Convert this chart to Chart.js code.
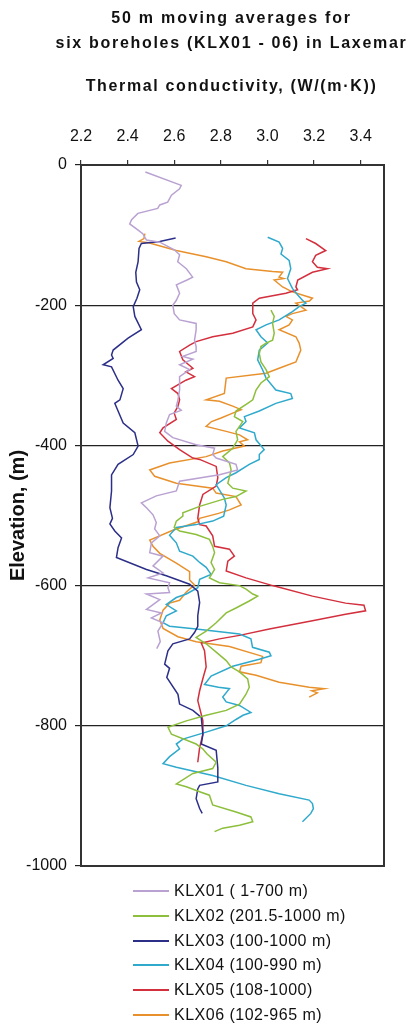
<!DOCTYPE html>
<html><head><meta charset="utf-8">
<script src="https://cdn.jsdelivr.net/npm/chart.js@4.4.1/dist/chart.umd.min.js"></script>
<style>
html,body{margin:0;padding:0;background:#fff;}
#wrap{position:relative;width:409px;height:1024px;overflow:hidden;font-family:"Liberation Sans",Arial,sans-serif;color:#111;}
#c{position:absolute;left:0;top:0;}
.t{position:absolute;left:54px;width:355px;text-align:center;font-weight:bold;white-space:nowrap;line-height:1.2;}
#t1{top:8px;font-size:16px;letter-spacing:1.8px;}
#t2{top:33px;font-size:16px;letter-spacing:1.7px;}
#t3{top:76px;font-size:16px;letter-spacing:1.65px;}
#legend{position:absolute;left:133px;top:881px;}
.li{position:relative;height:24.8px;font-size:16px;line-height:1.2;white-space:nowrap;letter-spacing:0.5px;}
.li .sw{position:absolute;left:0;top:9px;width:36px;height:2px;}
.li .tx{position:absolute;left:41px;top:0;}
</style></head>
<body><div id="wrap">
<canvas id="c" width="409" height="1024"></canvas>
<div class="t" id="t1">50 m moving averages for</div>
<div class="t" id="t2">six boreholes (KLX01 - 06) in Laxemar</div>
<div class="t" id="t3">Thermal conductivity, (W/(m·K))</div>
<div id="legend"></div>
</div>
<script>
// ---- data ----
const seriesNames = ["KLX01 ( 1-700 m)", "KLX02 (201.5-1000 m)", "KLX03 (100-1000 m)", "KLX04 (100-990 m)", "KLX05 (108-1000)", "KLX06 (102-965 m)"];
const xTickValues = [2.2, 2.4, 2.6, 2.8, 3.0, 3.2, 3.4];
const yTickValues = [0, -200, -400, -600, -800, -1000];

const klx01Elev = [-10,-29,-34,-43,-53,-57,-62,-69,-78,-84,-91,-98,-107,-110,-121,-128,-138,-148,-160,-164,-171,-183,-193,-200,-212,-221,-226,-235,-250,-259,-266,-273,-277,-285,-292,-302,-321,-335,-344,-350,-356,-368,-380,-389,-399,-404,-413,-418,-427,-435,-442,-451,-465,-472,-482,-489,-499,-510,-519,-529,-539,-553,-558,-572,-582,-589,-596,-603,-610,-612,-620,-634,-639,-646,-653,-665,-680,-690];
const klx01K = [2.476,2.630,2.623,2.588,2.572,2.538,2.529,2.444,2.417,2.409,2.438,2.465,2.481,2.538,2.600,2.623,2.615,2.652,2.679,2.655,2.609,2.623,2.609,2.594,2.600,2.623,2.694,2.694,2.687,2.694,2.694,2.637,2.680,2.623,2.666,2.623,2.623,2.616,2.609,2.630,2.580,2.566,2.559,2.594,2.694,2.773,2.765,2.780,2.865,2.872,2.794,2.623,2.609,2.523,2.459,2.481,2.509,2.523,2.516,2.538,2.502,2.495,2.552,2.509,2.552,2.488,2.580,2.573,2.580,2.481,2.538,2.481,2.545,2.502,2.552,2.530,2.540,2.525];

const klx02Elev = [-207,-216,-226,-240,-250,-254,-259,-269,-281,-292,-302,-311,-321,-335,-340,-351,-359,-366,-380,-392,-404,-416,-425,-435,-454,-461,-465,-473,-477,-487,-496,-501,-508,-517,-522,-527,-534,-544,-553,-567,-577,-589,-596,-600,-605,-612,-615,-622,-632,-639,-653,-665,-674,-683,-695,-707,-716,-723,-733,-745,-755,-769,-778,-785,-793,-802,-812,-826,-833,-840,-852,-861,-868,-883,-887,-894,-899,-913,-923,-930,-937,-942,-946,-951];
const klx02K = [3.015,3.029,3.022,3.029,3.022,2.994,2.972,2.965,2.972,2.994,3.008,2.972,2.951,2.937,2.915,2.865,2.858,2.894,2.865,2.872,2.851,2.808,2.837,2.844,2.830,2.851,2.908,2.865,2.808,2.709,2.637,2.637,2.609,2.600,2.623,2.694,2.751,2.765,2.773,2.758,2.773,2.751,2.794,2.880,2.908,2.937,2.958,2.922,2.865,2.823,2.780,2.737,2.694,2.737,2.780,2.823,2.844,2.880,2.915,2.922,2.908,2.880,2.823,2.737,2.652,2.573,2.588,2.694,2.723,2.740,2.780,2.765,2.680,2.609,2.652,2.709,2.751,2.765,2.865,2.929,2.937,2.880,2.808,2.773];

const klx03Elev = [-104,-109,-112,-119,-138,-153,-167,-178,-190,-202,-216,-235,-247,-264,-271,-276,-285,-288,-307,-319,-335,-340,-351,-368,-382,-401,-413,-427,-442,-465,-489,-504,-512,-522,-532,-546,-560,-577,-586,-598,-608,-624,-643,-658,-667,-676,-683,-693,-712,-718,-731,-755,-769,-778,-788,-812,-826,-835,-860,-880,-885,-890,-904,-918,-925];
const klx03K = [2.606,2.538,2.459,2.449,2.445,2.435,2.438,2.452,2.440,2.424,2.431,2.459,2.402,2.338,2.331,2.338,2.295,2.331,2.359,2.381,2.367,2.345,2.359,2.381,2.431,2.445,2.424,2.359,2.331,2.331,2.324,2.335,2.324,2.345,2.374,2.359,2.352,2.481,2.566,2.666,2.701,2.709,2.701,2.701,2.687,2.666,2.594,2.573,2.559,2.580,2.568,2.616,2.623,2.680,2.716,2.723,2.716,2.780,2.787,2.787,2.709,2.701,2.694,2.709,2.720];

const klx04Elev = [-103,-110,-119,-127,-136,-148,-162,-176,-185,-193,-197,-202,-209,-221,-228,-235,-245,-254,-264,-278,-292,-304,-321,-326,-333,-340,-351,-359,-366,-375,-382,-392,-406,-413,-420,-427,-439,-446,-456,-475,-485,-501,-508,-513,-517,-528,-539,-551,-558,-567,-574,-584,-591,-603,-612,-617,-627,-636,-643,-653,-658,-662,-669,-676,-688,-695,-700,-705,-715,-729,-741,-745,-747,-759,-766,-771,-781,-785,-791,-800,-809,-819,-826,-833,-844,-854,-859,-871,-885,-897,-906,-911,-918,-925,-937];
const klx04K = [3.001,3.050,3.065,3.058,3.093,3.100,3.086,3.107,3.129,3.150,3.165,3.136,3.107,3.050,2.994,2.951,2.972,3.001,2.965,2.958,2.979,2.994,3.036,3.100,3.107,3.036,2.965,2.901,2.908,2.880,2.944,2.951,2.986,2.965,2.965,2.922,2.865,2.823,2.780,2.815,2.823,2.812,2.765,2.694,2.609,2.580,2.609,2.623,2.680,2.709,2.737,2.758,2.709,2.701,2.652,2.609,2.566,2.609,2.566,2.552,2.580,2.694,2.880,2.929,2.936,3.008,3.015,2.965,2.851,2.758,2.730,2.790,2.837,2.808,2.823,2.880,2.929,2.895,2.865,2.823,2.737,2.637,2.609,2.623,2.580,2.552,2.609,2.765,2.908,3.050,3.179,3.193,3.197,3.186,3.150];

const klx05Elev = [-105,-112,-122,-129,-138,-146,-148,-153,-164,-174,-178,-183,-190,-197,-212,-221,-231,-240,-245,-252,-257,-266,-278,-290,-295,-302,-307,-319,-326,-335,-344,-354,-363,-375,-382,-394,-406,-418,-420,-430,-446,-458,-470,-485,-504,-513,-515,-529,-544,-548,-558,-565,-579,-589,-600,-615,-625,-628,-636,-641,-650,-662,-671,-676,-682,-693,-716,-730,-750,-764,-793,-812,-831,-852];
const klx05K = [3.165,3.207,3.250,3.207,3.193,3.214,3.257,3.193,3.130,3.122,3.129,3.079,2.965,2.937,2.937,2.951,2.937,2.851,2.765,2.694,2.666,2.623,2.637,2.680,2.650,2.687,2.650,2.588,2.616,2.623,2.616,2.600,2.609,2.552,2.538,2.573,2.623,2.680,2.709,2.780,2.787,2.780,2.723,2.709,2.701,2.709,2.737,2.765,2.773,2.837,2.858,2.830,2.823,2.908,3.022,3.193,3.335,3.414,3.421,3.335,3.193,3.008,2.880,2.794,2.716,2.730,2.737,2.725,2.709,2.701,2.723,2.723,2.709,2.701];

const klx06Elev = [-98,-105,-109,-111,-122,-131,-138,-148,-152,-153,-160,-162,-164,-174,-181,-190,-194,-197,-207,-212,-216,-221,-228,-235,-245,-254,-264,-281,-290,-297,-304,-326,-335,-337,-344,-349,-354,-361,-366,-373,-380,-385,-392,-395,-401,-408,-416,-425,-435,-444,-454,-461,-468,-473,-485,-492,-497,-504,-509,-521,-535,-544,-554,-568,-580,-592,-599,-609,-621,-625,-635,-649,-661,-673,-680,-687,-701,-710,-715,-723,-728,-738,-745,-747,-750,-753,-759];
const klx06K = [2.474,2.470,2.449,2.490,2.609,2.737,2.823,2.908,3.022,3.065,3.050,3.070,3.029,3.065,3.107,3.193,3.180,3.122,3.165,3.107,3.079,3.107,3.093,3.050,3.122,3.136,3.143,3.122,3.050,2.994,2.823,2.815,2.737,2.794,2.851,2.887,2.851,2.801,2.760,2.737,2.823,2.880,2.915,2.880,2.901,2.808,2.737,2.580,2.495,2.516,2.609,2.765,2.780,2.865,2.887,2.837,2.790,2.709,2.701,2.594,2.495,2.509,2.538,2.609,2.666,2.666,2.687,2.652,2.623,2.580,2.552,2.538,2.552,2.616,2.694,2.837,2.979,2.972,2.887,2.880,2.951,3.050,3.179,3.243,3.190,3.214,3.179];

// ---- styles ----
const colors = ["#b9a2d2", "#8dbf3c", "#2c2f88", "#2fa9cc", "#d32f3d", "#e8912c"];
const seriesElev = [klx01Elev, klx02Elev, klx03Elev, klx04Elev, klx05Elev, klx06Elev];
const seriesK = [klx01K, klx02K, klx03K, klx04K, klx05K, klx06K];

const datasets = seriesNames.map((name, i) => ({
  label: name,
  data: seriesElev[i].map((e, j) => ({x: seriesK[i][j], y: e})),
  borderColor: colors[i],
  backgroundColor: colors[i],
  borderWidth: 1.5,
  showLine: true,
  pointRadius: 0,
  tension: 0,
  fill: false
}));

// HTML legend
const leg = document.getElementById('legend');
seriesNames.forEach((n, i) => {
  const d = document.createElement('div');
  d.className = 'li';
  d.innerHTML = '<span class="sw" style="background:' + colors[i] + '"></span><span class="tx"></span>';
  d.querySelector('.tx').textContent = n;
  leg.appendChild(d);
});

Chart.defaults.font.family = '"Liberation Sans", Arial, sans-serif';
Chart.defaults.color = '#111';

const boxPlugin = {
  id: 'box',
  afterDraw(chart) {
    const {ctx, chartArea: a} = chart;
    ctx.save();
    ctx.strokeStyle = '#333';
    ctx.lineWidth = 2;
    ctx.strokeRect(a.left, a.top, a.right - a.left, a.bottom - a.top);
    ctx.restore();
  }
};

new Chart(document.getElementById('c'), {
  type: 'scatter',
  data: {datasets},
  options: {
    responsive: false,
    animation: false,
    devicePixelRatio: 1,
    layout: {padding: {top: 0, left: 0, right: 25, bottom: 158}},
    plugins: {legend: {display: false}, title: {display: false}, tooltip: {enabled: false}},
    scales: {
      x: {
        type: 'linear', position: 'top', min: 2.2, max: 3.5,
        afterFit(s) { s.height = 165; },
        afterBuildTicks(s) { s.ticks = xTickValues.map(v => ({value: v})); },
        ticks: {font: {size: 16}, padding: 14, maxRotation: 0, autoSkip: false,
          callback: v => Number(v).toFixed(1)},
        grid: {drawOnChartArea: false, drawTicks: true, tickLength: 5, color: '#333', lineWidth: 1.2},
        border: {display: false}
      },
      y: {
        type: 'linear', position: 'left', min: -1000, max: 0,
        afterFit(s) { s.width = 81; },
        afterBuildTicks(s) { s.ticks = yTickValues.map(v => ({value: v})); },
        ticks: {font: {size: 16}, padding: 8, autoSkip: false, callback: v => String(v)},
        grid: {drawOnChartArea: true, drawTicks: true, tickLength: 6, color: '#222', lineWidth: 1.2},
        border: {display: false},
        title: {display: true, text: 'Elevation, (m)', font: {size: 20, weight: 'bold'}, padding: {top: 6, bottom: 0}, color: '#111'}
      }
    }
  },
  plugins: [boxPlugin]
});
</script>
</body></html>
